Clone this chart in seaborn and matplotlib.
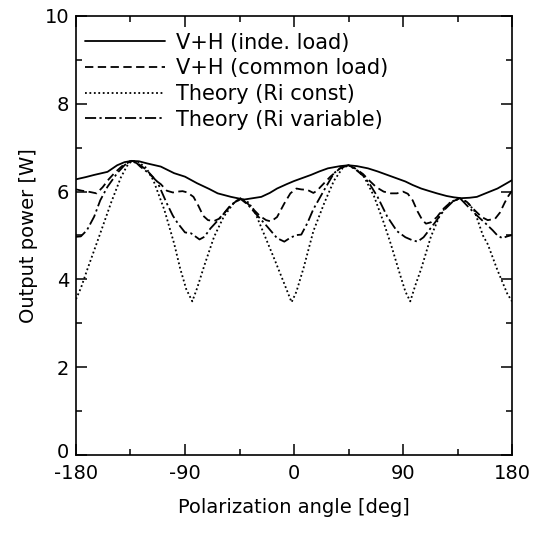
import matplotlib
matplotlib.use("Agg")
import matplotlib.pyplot as plt
import matplotlib.transforms as mtransforms
import seaborn as sns

# ---- data ----
inde_ang = [-180, -172, -165, -154, -146, -140, -134, -128, -121, -110, -99, -90, -80, -70, -63, -52, -45, -41,
            -34, -27, -20, -14, -6, 0, 7, 14, 21, 28, 38, 45, 52, 61, 69, 77, 85, 92, 98, 105, 112, 118, 126,
            132, 138, 145, 151, 159, 168, 175, 180]
inde_val = [6.28, 6.33, 6.38, 6.45, 6.60, 6.67, 6.70, 6.69, 6.64, 6.57, 6.42, 6.34, 6.19, 6.06, 5.96, 5.88, 5.84, 5.82,
            5.85, 5.88, 5.97, 6.07, 6.17, 6.24, 6.31, 6.38, 6.46, 6.53, 6.58, 6.60, 6.58, 6.53, 6.46, 6.38, 6.30, 6.23,
            6.15, 6.07, 6.01, 5.96, 5.90, 5.87, 5.85, 5.86, 5.88, 5.97, 6.07, 6.18, 6.26]

common_ang = [-180, -175, -170, -163, -158, -153, -148, -142, -137, -133, -128, -122, -117, -113, -110, -105, -100,
              -96, -92, -88, -83, -79, -75, -71, -66, -62, -58, -53, -47, -44, -38, -33, -28, -23, -19, -14, -8, -3,
              2, 6, 11, 16, 19, 22, 30, 38, 45, 51, 57, 63, 68, 74, 80, 85, 90, 94, 98, 102, 106, 109, 113, 118,
              123, 129, 137, 143, 149, 155, 160, 166, 170, 174, 177, 180]
common_val = [6.05, 6.02, 6.00, 5.96, 6.10, 6.28, 6.43, 6.58, 6.66, 6.70, 6.62, 6.50, 6.35, 6.23, 6.17, 6.02, 5.98,
              6.00, 6.01, 5.98, 5.88, 5.68, 5.45, 5.35, 5.33, 5.38, 5.50, 5.66, 5.80, 5.84, 5.72, 5.58, 5.44, 5.35,
              5.32, 5.42, 5.73, 5.96, 6.07, 6.05, 6.04, 5.97, 6.02, 6.11, 6.34, 6.53, 6.60, 6.52, 6.40, 6.23, 6.10,
              6.00, 5.96, 5.96, 6.00, 5.95, 5.80, 5.55, 5.35, 5.27, 5.30, 5.42, 5.60, 5.75, 5.85, 5.76, 5.58, 5.42,
              5.35, 5.38, 5.52, 5.75, 5.90, 6.02]

const_ang = [-180, -176, -171, -161, -151, -143, -138, -134, -129, -122, -116, -107, -99, -94, -89, -84, -80, -74,
             -66, -58, -50, -44, -38, -33, -25, -16, -8, -2, 2, 8, 16, 25, 33, 40, 45, 51, 58, 66, 74, 80, 88, 92,
             96, 100, 105, 113, 121, 129, 137, 143, 149, 156, 160, 168, 176, 180]
const_val = [3.55, 3.80, 4.20, 4.97, 5.75, 6.32, 6.58, 6.70, 6.68, 6.54, 6.25, 5.58, 4.82, 4.25, 3.78, 3.50, 3.80,
             4.32, 4.97, 5.43, 5.73, 5.85, 5.76, 5.58, 5.05, 4.45, 3.90, 3.48, 3.72, 4.27, 5.10, 5.74, 6.25, 6.53,
             6.60, 6.52, 6.33, 5.90, 5.30, 4.80, 4.07, 3.72, 3.50, 3.85, 4.24, 4.97, 5.50, 5.76, 5.85, 5.76, 5.56,
             5.00, 4.80, 4.21, 3.68, 3.50]

var_ang = [-180, -176, -171, -165, -160, -154, -146, -140, -135, -130, -127, -120, -113, -105, -100, -96, -90, -85,
           -78, -74, -69, -60, -52, -44, -38, -33, -22, -14, -8, -3, 2, 6, 11, 16, 25, 33, 39, 45, 51, 58, 63, 69,
           77, 85, 92, 97, 102, 107, 116, 124, 131, 137, 145, 152, 158, 164, 168, 172, 176, 180]
var_val = [4.97, 4.98, 5.12, 5.43, 5.80, 6.11, 6.42, 6.60, 6.70, 6.65, 6.57, 6.42, 6.23, 5.73, 5.45, 5.28, 5.07,
           5.05, 4.91, 4.97, 5.16, 5.43, 5.70, 5.83, 5.70, 5.54, 5.20, 4.94, 4.86, 4.95, 5.01, 5.02, 5.28, 5.60,
           6.04, 6.42, 6.55, 6.60, 6.50, 6.34, 6.15, 5.88, 5.43, 5.10, 4.96, 4.90, 4.86, 4.96, 5.28, 5.58, 5.77,
           5.85, 5.62, 5.43, 5.28, 5.12, 5.00, 4.94, 4.98, 5.01]

labels = ["V+H (inde. load)", "V+H (common load)", "Theory (Ri const)", "Theory (Ri variable)"]
xticks = [-180, -90, 0, 90, 180]
yticks = [0, 2, 4, 6, 8, 10]

# ---- styling ----
sns.set_style("ticks")
plt.rcParams["font.family"] = ["DejaVu Sans"]
plt.rcParams["lines.scale_dashes"] = False
plt.rcParams["axes.unicode_minus"] = False
plt.rcParams["text.color"] = "black"
plt.rcParams["axes.labelcolor"] = "black"
plt.rcParams["xtick.color"] = "black"
plt.rcParams["ytick.color"] = "black"

fig = plt.figure(figsize=(5.46, 5.33), dpi=100)
ax = fig.add_axes([76 / 546, 1 - 455 / 533, 436 / 546, 439 / 533])

lw = 1.3
sns.lineplot(x=inde_ang, y=inde_val, ax=ax, color="black", lw=lw, linestyle="-", label=labels[0])
sns.lineplot(x=common_ang, y=common_val, ax=ax, color="black", lw=lw, linestyle=(0, (6.0, 3.2)), label=labels[1])
sns.lineplot(x=const_ang, y=const_val, ax=ax, color="black", lw=lw, linestyle=(0, (1.3, 1.9)), label=labels[2])
sns.lineplot(x=var_ang, y=var_val, ax=ax, color="black", lw=lw, linestyle=(0, (8.0, 2.4, 1.6, 2.4)), label=labels[3])

ax.set_xlim(-180, 180)
ax.set_ylim(0, 10)
ax.set_xticks(xticks)
ax.set_yticks(yticks)
ax.set_xticks([-135, -45, 45, 135], minor=True)
ax.set_yticks([1, 3, 5, 7, 9], minor=True)
ax.tick_params(which="both", direction="in", top=True, right=True, width=1.1, colors="black",
               labelcolor="black", labelsize=14)
ax.tick_params(axis="x", which="major", pad=6.5)
ax.tick_params(axis="y", which="major", pad=5)
ax.tick_params(which="major", length=8)
ax.tick_params(which="minor", length=4.3)
for s in ax.spines.values():
    s.set_visible(True)
    s.set_linewidth(1.2)
    s.set_color("black")

ax.set_xlabel("Polarization angle [deg]", fontsize=14, color="black")
ax.set_ylabel("Output power [W]", fontsize=14, color="black")
ax.xaxis.set_label_coords(0.5, -0.098)
ax.yaxis.set_label_coords(-0.088, 0.5)

# lift the "0" y tick label a little, as in the reference
fig.canvas.draw()
ylabs = ax.get_yticklabels()
ylabs[0].set_transform(ylabs[0].get_transform() + mtransforms.ScaledTranslation(0, 5 / 100, fig.dpi_scale_trans))

leg = ax.legend(loc="upper left", bbox_to_anchor=(0.02, 0.962), frameon=False, fontsize=15,
                handlelength=3.85, handletextpad=0.55, labelspacing=0.27, borderpad=0, borderaxespad=0)
for t in leg.get_texts():
    t.set_color("black")

fig.savefig("out.png", dpi=100)
